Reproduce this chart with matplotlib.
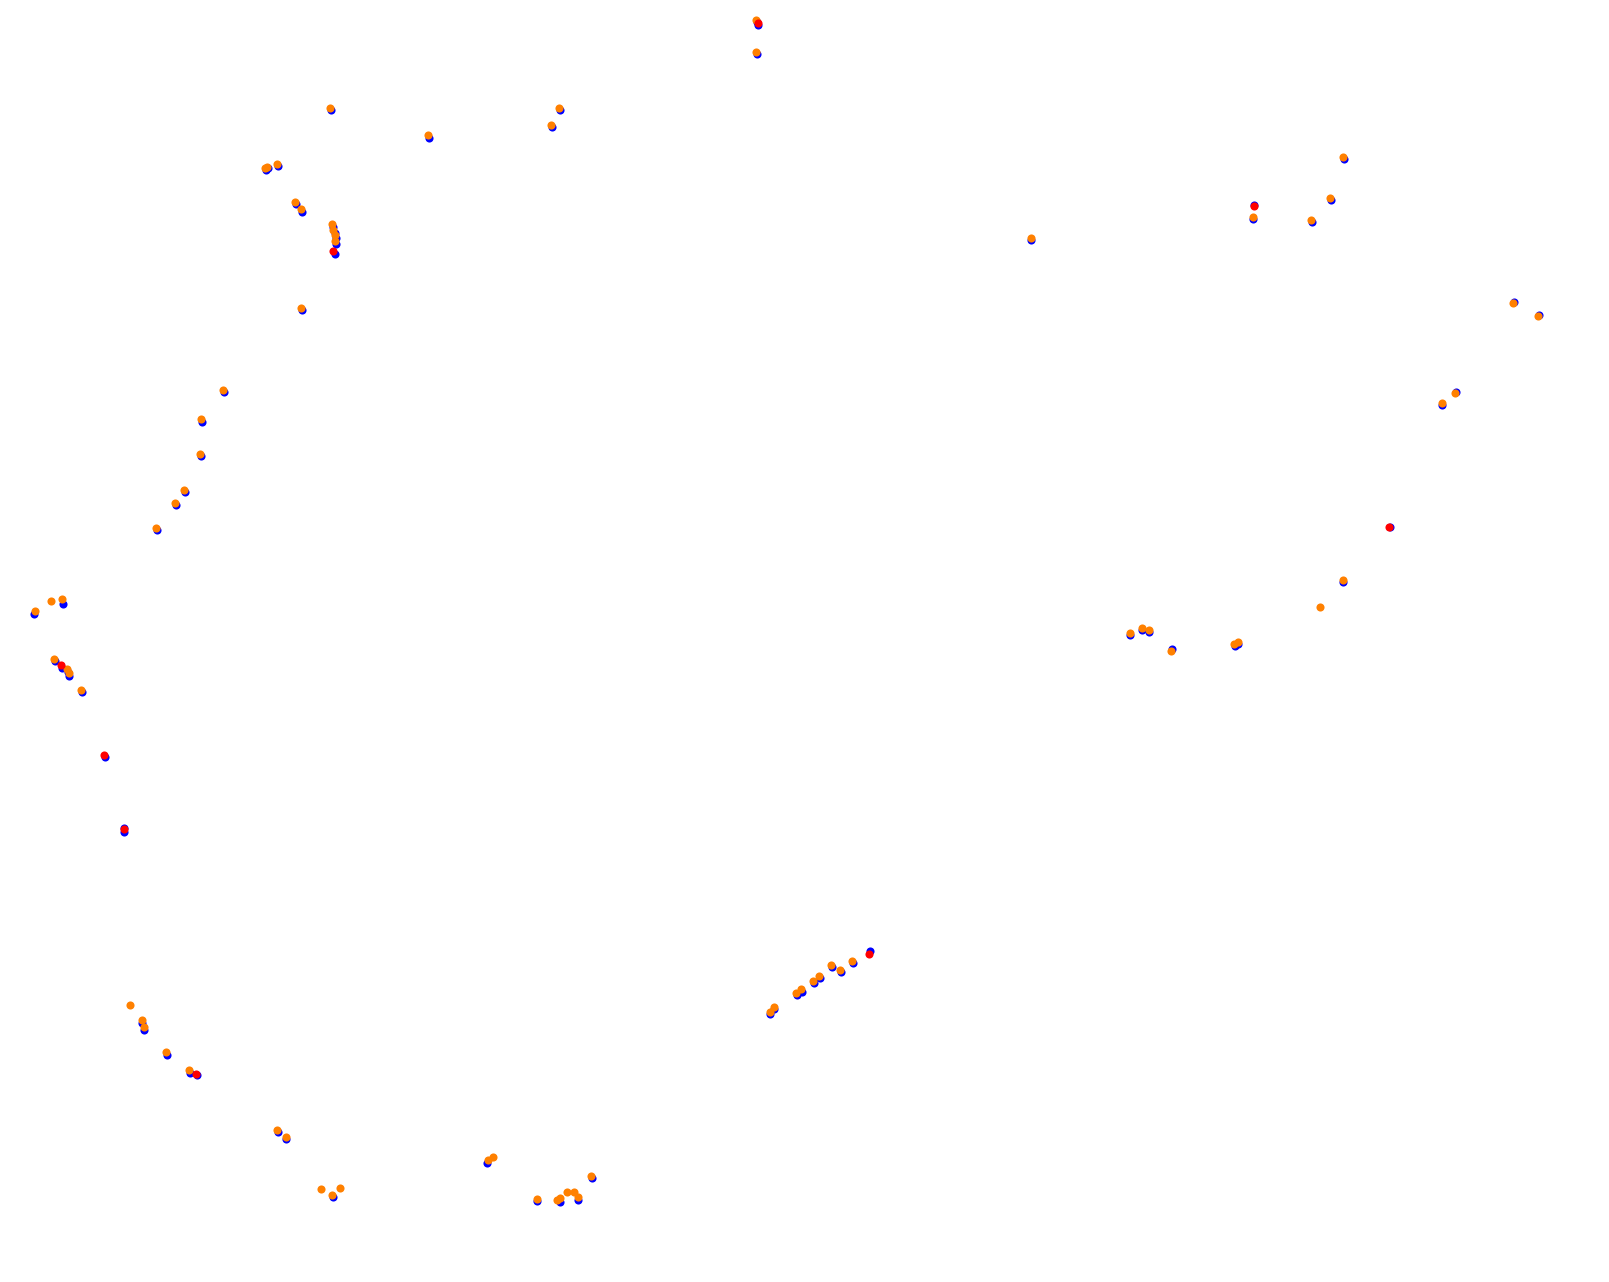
import numpy as np
import matplotlib.pyplot as plt

# point positions (image coordinates, y grows downward)
orange_x = [737, 737, 322, 417, 545, 537, 258, 260, 270, 287, 293, 324, 325, 326, 326,
            293, 217, 196, 195, 179, 171, 152, 34, 50, 60, 53, 65, 67, 79,
            127, 138, 140, 162, 184, 270, 279, 313, 324, 331, 476, 480,
            523, 543, 546, 553, 559, 563, 576, 750, 754, 776, 781, 792, 798, 810, 819, 830,
            1005, 1221, 1278, 1296, 1309, 1474, 1499, 1405, 1418, 1309, 1286,
            1101, 1113, 1120, 1141, 1203, 1206]
orange_y = [19, 51, 105, 132, 105, 122, 164, 163, 160, 197, 204, 218, 224, 229, 235,
            300, 380, 408, 442, 477, 490, 514, 595, 586, 584, 642, 652, 656, 672,
            979, 994, 1001, 1025, 1042, 1101, 1108, 1158, 1164, 1157, 1130, 1127,
            1168, 1169, 1167, 1161, 1161, 1166, 1146, 986, 981, 967, 964, 956, 951, 940, 945, 936,
            232, 211, 214, 193, 153, 295, 308, 393, 383, 565, 591,
            617, 612, 614, 634, 627, 625]

blue_x = [738, 739, 738, 323, 418, 546, 538, 259, 261, 271, 288, 294, 325, 326, 327, 327, 326,
          294, 218, 197, 196, 180, 172, 153, 33, 61, 54, 60, 66, 67, 80, 102, 121, 121,
          138, 140, 163, 185, 192, 271, 279, 325, 475, 523, 546, 563, 577, 750, 754,
          777, 782, 793, 799, 811, 820, 831, 848,
          1005, 1222, 1221, 1279, 1297, 1310, 1475, 1500, 1405, 1419, 1355, 1309,
          1101, 1113, 1120, 1142, 1204, 1206]
blue_y = [21, 24, 53, 107, 134, 107, 124, 166, 164, 162, 199, 207, 221, 227, 232, 238, 247,
          302, 382, 411, 444, 479, 492, 516, 598, 588, 644, 651, 655, 659, 674, 738, 807, 811,
          997, 1003, 1028, 1045, 1047, 1103, 1110, 1166, 1133, 1170, 1171, 1169, 1148, 988, 983,
          969, 966, 958, 953, 942, 947, 938, 927,
          234, 200, 213, 216, 195, 155, 294, 307, 395, 382, 513, 567,
          619, 614, 616, 632, 629, 627]

red_x = [739, 325, 59, 101, 121, 191, 847, 1222, 1354]
red_y = [22, 245, 648, 736, 808, 1046, 929, 201, 513]

fig = plt.figure(figsize=(16.09, 12.82), dpi=100)
ax = fig.add_axes([0, 0, 1, 1])
ax.scatter(blue_x, blue_y, s=34, c='#0000ff', linewidths=0, zorder=1)
ax.scatter(orange_x, orange_y, s=34, c='#ff8000', linewidths=0, zorder=2)
ax.scatter(red_x, red_y, s=34, c='#ff0000', linewidths=0, zorder=3)
ax.set_xlim(0, 1568)
ax.set_ylim(1249, 0)
ax.axis('off')
fig.savefig('out.png', dpi=100)
